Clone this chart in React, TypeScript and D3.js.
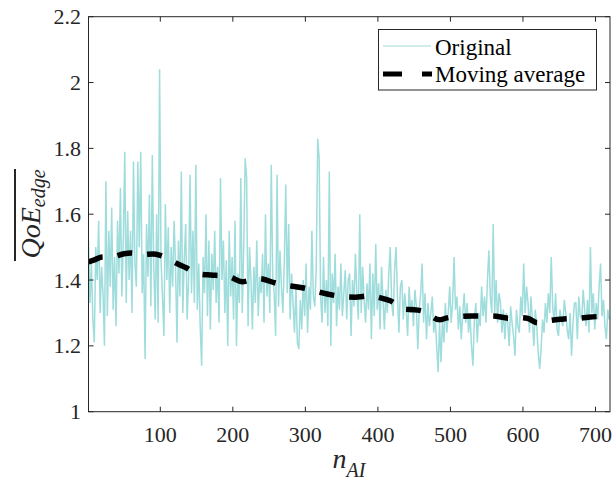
import React from 'react';
import * as d3 from 'd3';

// sample spacing of the "Original" series along n_AI
const STEP = 2;
const FIRST_N = 1;

// QoE_edge samples (every 2nd n_AI)
const original: number[] = [
  1.52, 1.33, 1.45, 1.28, 1.21, 1.50, 1.40, 1.58, 1.30, 1.44, 1.36, 1.20,
  1.70, 1.29, 1.55, 1.38, 1.62, 1.31, 1.47, 1.26, 1.58, 1.42, 1.68, 1.35,
  1.52, 1.79, 1.33, 1.61, 1.40, 1.55, 1.30, 1.76, 1.45, 1.38, 1.76, 1.50,
  1.79, 1.36, 1.48, 1.16, 1.57, 1.41, 1.66, 1.32, 1.78, 1.44, 1.28, 1.60,
  1.27, 2.04, 1.46, 1.35, 1.23, 1.63, 1.40, 1.56, 1.30, 1.50, 1.38, 1.58,
  1.44, 1.21, 1.52, 1.35, 1.73, 1.30, 1.46, 1.57, 1.28, 1.40, 1.72, 1.36,
  1.55, 1.33, 1.75, 1.31, 1.45, 1.26, 1.14, 1.47, 1.36, 1.60, 1.29, 1.52,
  1.25, 1.48, 1.37, 1.55, 1.33, 1.44, 1.27, 1.71, 1.40, 1.52, 1.30, 1.46,
  1.20, 1.55, 1.35, 1.47, 1.28, 1.58, 1.20, 1.42, 1.33, 1.71, 1.30, 1.50,
  1.77, 1.71, 1.26, 1.50, 1.40, 1.25, 1.44, 1.33, 1.52, 1.29, 1.41, 1.36,
  1.48, 1.27, 1.60, 1.35, 1.45, 1.30, 1.75, 1.41, 1.36, 1.23, 1.72, 1.32,
  1.49, 1.38, 1.30, 1.46, 1.69, 1.36, 1.57, 1.28, 1.42, 1.33, 1.24, 1.38,
  1.21, 1.19, 1.34, 1.25, 1.40, 1.29, 1.45, 1.24, 1.38, 1.31, 1.55, 1.35,
  1.32, 1.44, 1.83, 1.77, 1.35, 1.27, 1.47, 1.30, 1.40, 1.26, 1.73, 1.20,
  1.42, 1.33, 1.48, 1.26, 1.38, 1.31, 1.45, 1.29, 1.36, 1.43, 1.28, 1.40,
  1.42, 1.23, 1.40, 1.32, 1.48, 1.36, 1.28, 1.60, 1.30, 1.44, 1.34, 1.27,
  1.39, 1.31, 1.45, 1.22, 1.42, 1.29, 1.51, 1.31, 1.39, 1.25, 1.44, 1.34,
  1.25, 1.37, 1.30, 1.42, 1.50, 1.33, 1.29, 1.43, 1.50, 1.35, 1.24, 1.38,
  1.40, 1.28, 1.36, 1.31, 1.23, 1.38, 1.30, 1.34, 1.26, 1.37, 1.32, 1.19,
  1.31, 1.36, 1.45, 1.27, 1.36, 1.22, 1.33, 1.26, 1.30, 1.35, 1.24, 1.29,
  1.20, 1.12, 1.27, 1.15, 1.28, 1.21, 1.33, 1.24, 1.30, 1.38, 1.27, 1.33,
  1.47, 1.31, 1.35, 1.25, 1.32, 1.22, 1.30, 1.36, 1.27, 1.33, 1.24, 1.30,
  1.20, 1.14, 1.28, 1.33, 1.21, 1.30, 1.26, 1.38, 1.29, 1.35, 1.27, 1.40,
  1.49, 1.35, 1.30, 1.57, 1.30, 1.40, 1.27, 1.36, 1.33, 1.24, 1.31, 1.22,
  1.30, 1.27, 1.20, 1.32, 1.27, 1.23, 1.17, 1.31, 1.26, 1.24, 1.35, 1.29,
  1.45, 1.30, 1.38, 1.33, 1.24, 1.35, 1.28, 1.20, 1.31, 1.26, 1.18, 1.13,
  1.19, 1.28, 1.24, 1.33, 1.27, 1.36, 1.30, 1.47, 1.32, 1.27, 1.36, 1.25,
  1.23, 1.31, 1.28, 1.26, 1.34, 1.30, 1.25, 1.22, 1.30, 1.17, 1.27, 1.33,
  1.33, 1.22, 1.35, 1.29, 1.28, 1.37, 1.31, 1.26, 1.34, 1.24, 1.50, 1.30,
  1.36, 1.25, 1.33, 1.28, 1.38, 1.45, 1.29, 1.34, 1.26, 1.22, 1.31, 1.28,
];

// Moving average curve (n_AI, value)
const maN: number[] = [
  1, 10, 20, 35, 50, 60, 75, 90, 100, 115, 125, 135, 150, 170, 185, 195,
  213, 225, 237, 257, 270, 280, 300, 312, 322, 344, 368, 390, 405, 417,
  438, 450, 463, 485, 495, 508, 531, 558, 581, 595, 607, 620, 630, 640,
  653, 677, 690, 703, 720,
];
const maV: number[] = [
  1.455, 1.462, 1.470, 1.471, 1.480, 1.482, 1.477, 1.479, 1.475, 1.460,
  1.448, 1.438, 1.420, 1.415, 1.413, 1.410, 1.395, 1.400, 1.404, 1.392,
  1.385, 1.382, 1.375, 1.368, 1.362, 1.352, 1.348, 1.352, 1.345, 1.337,
  1.311, 1.310, 1.305, 1.279, 1.285, 1.289, 1.291, 1.291, 1.284, 1.286,
  1.283, 1.270, 1.274, 1.278, 1.281, 1.284, 1.287, 1.289, 1.290,
];

const xTicks = [100, 200, 300, 400, 500, 600, 700];
const yTicks = [1, 1.2, 1.4, 1.6, 1.8, 2, 2.2];
const yTickLabels = ['1', '1.2', '1.4', '1.6', '1.8', '2', '2.2'];
const legendLabels = ['Original', 'Moving average'];

const W = 615;
const H = 481;
const M = { left: 88.5, right: 610, top: 16.7, bottom: 411.7 };
const AXIS = '#262626';
const CYAN = '#9fdcdc';
const FONT = "'Liberation Serif', 'DejaVu Serif', serif";

export default function App() {
  const x = d3.scaleLinear().domain([FIRST_N, 720]).range([M.left, M.right]);
  const y = d3.scaleLinear().domain([1, 2.2]).range([M.bottom, M.top]);

  const origPts: [number, number][] = original.map((v, i) => [FIRST_N + i * STEP, v]);
  const maPts: [number, number][] = maN.map((n, i) => [n, maV[i]]);

  const line = d3
    .line<[number, number]>()
    .x((d) => x(d[0]))
    .y((d) => y(d[1]));
  const maLine = d3
    .line<[number, number]>()
    .x((d) => x(d[0]))
    .y((d) => y(d[1]))
    .curve(d3.curveMonotoneX);

  const tickLen = 5;
  const pw = M.right - M.left;
  const ph = M.bottom - M.top;

  const T = (props: any) => <text {...props} style={{ fontFamily: FONT }} />;

  return (
    <svg
      width={W}
      height={H}
      style={{ position: 'absolute', left: 0, top: 0, background: '#fff' }}
    >
      <defs>
        <clipPath id="plotclip">
          <rect x={M.left} y={M.top} width={pw} height={ph} />
        </clipPath>
      </defs>
      <rect x={0} y={0} width={W} height={H} fill="#fff" />

      <g clipPath="url(#plotclip)">
        <path d={line(origPts) || ''} fill="none" stroke={CYAN} strokeWidth={1.5} strokeLinejoin="miter" />
        <path
          d={maLine(maPts) || ''}
          fill="none"
          stroke="#000"
          strokeWidth={5.5}
          strokeDasharray="15 15"
        />
      </g>

      {/* axes box */}
      <rect x={M.left} y={M.top} width={pw} height={ph} fill="none" stroke={AXIS} strokeWidth={1} />

      {/* x ticks */}
      {xTicks.map((t) => (
        <g key={'xt' + t}>
          <line x1={x(t)} x2={x(t)} y1={M.bottom} y2={M.bottom - tickLen} stroke={AXIS} />
          <line x1={x(t)} x2={x(t)} y1={M.top} y2={M.top + tickLen} stroke={AXIS} />
          <T x={x(t)} y={442} textAnchor="middle" fontSize={22} fill={AXIS}>
            {t}
          </T>
        </g>
      ))}

      {/* y ticks */}
      {yTicks.map((t, i) => (
        <g key={'yt' + t}>
          <line x1={M.left} x2={M.left + tickLen} y1={y(t)} y2={y(t)} stroke={AXIS} />
          <line x1={M.right} x2={M.right - tickLen} y1={y(t)} y2={y(t)} stroke={AXIS} />
          <T x={81} y={y(t) + 7.5} textAnchor="end" fontSize={22} fill={AXIS}>
            {yTickLabels[i]}
          </T>
        </g>
      ))}

      {/* x label */}
      <T x={349} y={468} textAnchor="middle" fontSize={28} fontStyle="italic" fill={AXIS}>
        n
        <tspan fontSize={20} dy={9}>
          AI
        </tspan>
      </T>

      {/* y label with overline */}
      <g transform="translate(40,214) rotate(-90)">
        <T x={0} y={0} textAnchor="middle" fontSize={28} fontStyle="italic" fill={AXIS}>
          QoE
          <tspan fontSize={20} dy={5}>
            edge
          </tspan>
        </T>
      </g>
      <line x1={15} x2={15} y1={169} y2={261} stroke={AXIS} strokeWidth={2} />

      {/* legend */}
      <g>
        <rect x={378.5} y={29.5} width={218} height={60.5} fill="#fff" stroke={AXIS} strokeWidth={1} />
        <line x1={383} x2={431} y1={46} y2={46} stroke={CYAN} strokeWidth={1.2} />
        <T x={435} y={55} fontSize={23} fill="#000">
          {legendLabels[0]}
        </T>
        <line
          x1={383}
          x2={432}
          y1={74}
          y2={74}
          stroke="#000"
          strokeWidth={5}
          strokeDasharray="19 20"
        />
        <T x={435} y={82} fontSize={23} fill="#000">
          {legendLabels[1]}
        </T>
      </g>
    </svg>
  );
}
